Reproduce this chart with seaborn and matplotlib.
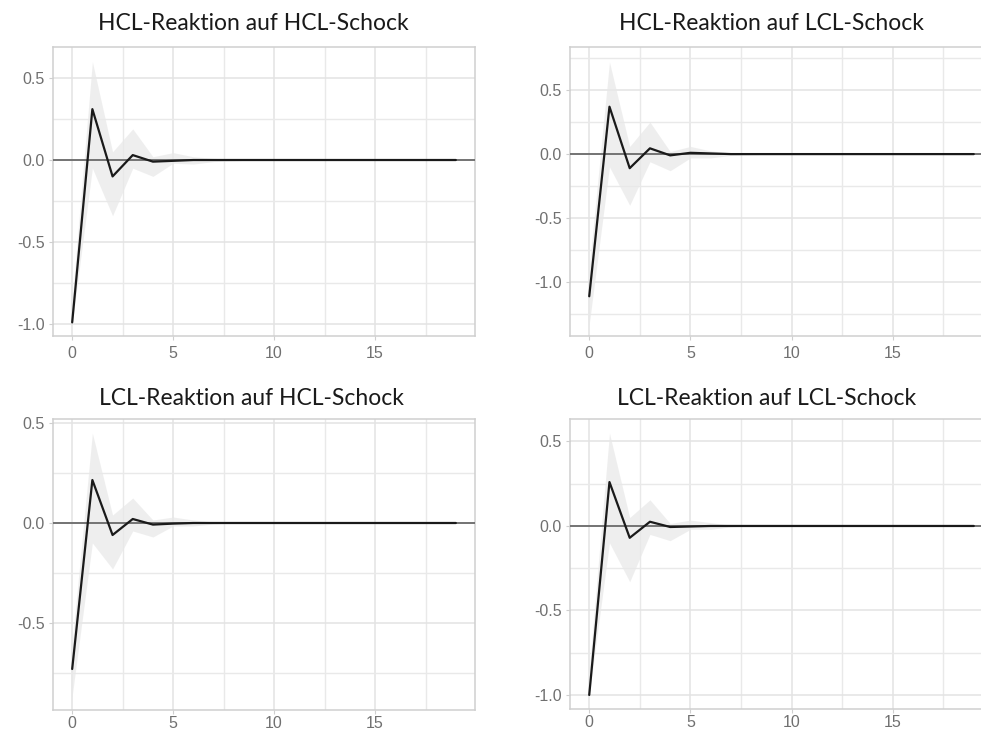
import numpy as np
import pandas as pd
import matplotlib
matplotlib.use("Agg")
import matplotlib.pyplot as plt
import seaborn as sns
from matplotlib.ticker import FixedLocator, FuncFormatter

sns.set_theme(style="white")
plt.rcParams['font.family'] = ['Liberation Sans', 'DejaVu Sans']
plt.rcParams['axes.unicode_minus'] = False

# ---------------- data ----------------
horizon = list(range(20))

titles = ["HCL-Reaktion auf HCL-Schock", "HCL-Reaktion auf LCL-Schock",
          "LCL-Reaktion auf HCL-Schock", "LCL-Reaktion auf LCL-Schock"]

irf_hh = [-0.99, 0.31, -0.10, 0.03, -0.01, -0.005, 0.0] + [0.0] * 13
up_hh = [-0.85, 0.60, 0.05, 0.19, 0.02, 0.045, 0.02, 0.01, 0.005] + [0.0] * 11
lo_hh = [-1.00, -0.05, -0.34, -0.05, -0.10, -0.02, -0.025, -0.01, -0.005] + [0.0] * 11

irf_hl = [-1.11, 0.37, -0.11, 0.045, -0.01, 0.01, 0.005] + [0.0] * 13
up_hl = [-0.89, 0.72, 0.06, 0.25, 0.02, 0.06, 0.025, 0.01, 0.005] + [0.0] * 11
lo_hl = [-1.33, -0.10, -0.40, -0.06, -0.13, -0.03, -0.03, -0.01, -0.005] + [0.0] * 11

irf_lh = [-0.73, 0.215, -0.06, 0.02, -0.008, -0.003, 0.0] + [0.0] * 13
up_lh = [-0.60, 0.45, 0.04, 0.125, 0.015, 0.03, 0.015, 0.005, 0.0] + [0.0] * 11
lo_lh = [-0.865, -0.10, -0.23, -0.04, -0.07, -0.015, -0.015, -0.005, 0.0] + [0.0] * 11

irf_ll = [-1.00, 0.26, -0.07, 0.025, -0.006, -0.003, 0.0] + [0.0] * 13
up_ll = [-0.85, 0.55, 0.05, 0.155, 0.015, 0.035, 0.02, 0.005, 0.0] + [0.0] * 11
lo_ll = [-1.00, -0.10, -0.33, -0.05, -0.087, -0.02, -0.02, -0.005, 0.0] + [0.0] * 11

x_major = [0, 5, 10, 15]
x_minor = [2.5, 7.5, 12.5, 17.5]
y_major = [[-1.0, -0.5, 0.0, 0.5], [-1.0, -0.5, 0.0, 0.5],
           [-0.5, 0.0, 0.5], [-1.0, -0.5, 0.0, 0.5]]
y_minor = [[-0.75, -0.25, 0.25], [-1.25, -0.75, -0.25, 0.25, 0.75],
           [-0.75, -0.25, 0.25], [-0.75, -0.25, 0.25]]
y_limits = [(-1.073, 0.689), (-1.42, 0.836), (-0.935, 0.52), (-1.083, 0.633)]

series = [(irf_hh, up_hh, lo_hh), (irf_hl, up_hl, lo_hl),
          (irf_lh, up_lh, lo_lh), (irf_ll, up_ll, lo_ll)]

# --------------- layout (pixels) ---------------
W, H = 981, 731
fig = plt.figure(figsize=(W / 100, H / 100), dpi=100)
fig.patch.set_facecolor("white")

boxes = [(53, 475, 47, 336), (570, 993, 47, 336),
         (53, 475, 419, 710), (570, 993, 419, 709)]
title_pos = [(253, 24), (771, 24), (251, 399), (767, 399)]
xpad = [4, 4, 1, 1]

grid_col = "#e3e3e3"
for i in range(4):
    l, r, t, b = boxes[i]
    ax = fig.add_axes([l / W, 1 - b / H, (r - l) / W, (b - t) / H])
    irf, up, lo = series[i]
    df = pd.DataFrame({"h": horizon, "irf": irf, "upper": up, "lower": lo})

    ax.set_xlim(-0.95, 19.95)
    ax.set_ylim(*y_limits[i])

    ax.xaxis.set_major_locator(FixedLocator(x_major))
    ax.xaxis.set_minor_locator(FixedLocator(x_minor))
    ax.yaxis.set_major_locator(FixedLocator(y_major[i]))
    ax.yaxis.set_minor_locator(FixedLocator(y_minor[i]))
    ax.xaxis.set_major_formatter(FuncFormatter(lambda v, p: f"{v:g}"))
    ax.yaxis.set_major_formatter(FuncFormatter(lambda v, p: f"{v:.1f}"))

    ax.grid(True, which="major", color=grid_col, lw=1.1)
    ax.grid(True, which="minor", color="#e9e9e9", lw=1.0)
    ax.set_axisbelow(True)

    ax.fill_between(df["h"], df["lower"], df["upper"], color="#e8e8e8",
                    alpha=0.7, lw=0, zorder=2)
    ax.axhline(0, color="#6a6a6a", lw=1.3, zorder=3)
    sns.lineplot(data=df, x="h", y="irf", ax=ax, color="#1a1a1a", lw=1.6,
                 zorder=4)

    ax.set_xlabel("")
    ax.set_ylabel("")
    for s in ax.spines.values():
        s.set_color("#cfcfcf")
        s.set_linewidth(1.1)
    ax.tick_params(axis="both", which="major", length=3, width=0.8,
                   color="#cfcfcf", labelcolor="#707070", labelsize=11.5,
                   pad=3, left=True, bottom=True)
    ax.tick_params(axis="x", which="major", pad=xpad[i])
    ax.tick_params(axis="both", which="minor", length=0)

    tx, ty = title_pos[i]
    fig.text(tx / W, 1 - ty / H, titles[i], ha="center", va="center",
             fontsize=16.5, color="#1a1a1a", family=["Lato", "DejaVu Sans"])

fig.savefig("out.png", dpi=100, facecolor="white")
